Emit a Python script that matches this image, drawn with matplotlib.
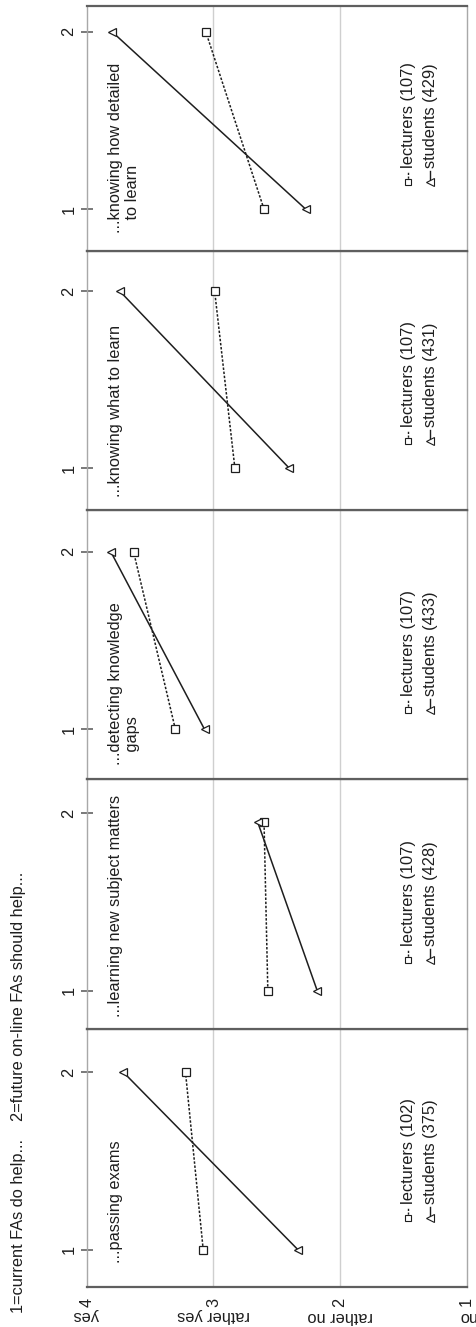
import matplotlib
matplotlib.use("Agg")
import matplotlib.pyplot as plt
import matplotlib.transforms as mtransforms
from matplotlib.lines import Line2D

plt.rcParams['font.family'] = ['Liberation Sans', 'DejaVu Sans']

# questionnaire items, listed from the bottom panel to the top panel
items = [
    "...passing exams",
    "...learning new subject matters",
    "...detecting knowledge\n   gaps",
    "...knowing what to learn",
    "...knowing how detailed\n   to learn",
]
n_lecturers = [102, 107, 107, 107, 107]
n_students = [375, 428, 433, 431, 429]

# mean agreement (4=yes ... 1=no)
lect_current = [3.08, 2.57, 3.30, 2.83, 2.60]
lect_future = [3.22, 2.60, 3.63, 2.99, 3.06]
stud_current = [2.33, 2.18, 3.07, 2.40, 2.27]
stud_future = [3.71, 2.65, 3.81, 3.74, 3.80]

# time point of each mean: 1=current FAs, 2=future on-line FAs
time_current = [1, 1, 1, 1, 1]
time_future = [2, 1.95, 2, 2, 2]

scale_values = [4, 3, 2, 1]
scale_words = ["yes", "rather yes", "rather no", "no"]
grid_values = [3, 2]
time_ticks = [1, 2]
title = "1=current FAs do help...    2=future on-line FAs should help..."

# ---- layout (pixels, origin at the top-left corner) ----
W, H = 476, 1327
FS = 11.8
INK = "#1e1e1e"
x_left, x_right = 86.7, 466.7
# (top, bottom, position of time 2, position of time 1) for each panel
rows = [
    (1029, 1287, 1072.3, 1250.0),
    (779, 1029, 813.3, 990.7),
    (510, 779, 551.7, 729.3),
    (251, 510, 291.0, 468.3),
    (6, 251, 31.7, 209.3),
]
item_offsets = [24, 12, 14, 13, 18]

fig = plt.figure(figsize=(W / 100, H / 100), dpi=100)
px = mtransforms.Affine2D().scale(1 / W, -1 / H).translate(0, 1) + fig.transFigure

axes = []
for i, (top, bot, t2, t1) in enumerate(rows):
    ax = fig.add_axes([x_left / W, 1 - bot / H, (x_right - x_left) / W, (bot - top) / H])
    axes.append(ax)
    unit = t1 - t2
    ax.set_ylim(1 - (bot - t1) / unit, 2 + (t2 - top) / unit)
    ax.set_xlim(4, 1)

    for g in grid_values:
        ax.axvline(g, color="#cfcfcf", lw=1.0, zorder=0)

    ax.plot([lect_current[i], lect_future[i]], [time_current[i], time_future[i]],
            ls=(0, (1.6, 1.1)), color=INK, lw=1.1, marker="s", ms=5.5,
            mfc="white", mec=INK, mew=0.9, zorder=3)
    ax.plot([stud_current[i], stud_future[i]], [time_current[i], time_future[i]],
            ls="-", color=INK, lw=1.1, marker="<", ms=6,
            mfc="white", mec=INK, mew=0.9, zorder=3)

    # spines: dark separators between panels, light outer edges
    for s in ("top", "bottom"):
        ax.spines[s].set_color("#5f5f5f")
        ax.spines[s].set_linewidth(1.6)
    for s in ("left", "right"):
        ax.spines[s].set_color("#a8a8a8")
        ax.spines[s].set_linewidth(1.0)

    ax.set_xticks([])
    ax.set_yticks(time_ticks)
    ax.set_yticklabels([str(t) for t in time_ticks], rotation=90, va="center")
    ax.tick_params(axis="y", direction="inout", length=9, width=1.1,
                   color="#555555", pad=3, labelsize=FS, labelcolor=INK)

    # item label
    ax.text(108, bot - item_offsets[i], items[i], transform=px, rotation=90,
            rotation_mode="anchor", ha="left", va="top", multialignment="left",
            fontsize=FS, color=INK)

    # legend
    y_m = bot - 69
    entries = [
        (408, f"lecturers ({n_lecturers[i]})", (0, (1.6, 1.1)), "s", 5),
        (430, f"students ({n_students[i]})", "-", "<", 5.5),
    ]
    for x_e, label, ls, mk, ms in entries:
        ax.add_line(Line2D([x_e, x_e], [y_m, y_m - 11], transform=px, ls=ls,
                           color=INK, lw=1.0, marker=mk, markevery=[0], ms=ms,
                           mfc="white", mec=INK, mew=0.8, clip_on=False))
        ax.text(x_e, y_m - 14, label, transform=px, rotation=90,
                rotation_mode="anchor", ha="left", va="center",
                fontsize=FS, color=INK)

# rating scale under the bottom panel
scale_tf = mtransforms.blended_transform_factory(axes[0].transData, px)
for v, w in zip(scale_values, scale_words):
    fig.text(v, 1302, str(v), transform=scale_tf, rotation=90,
             ha="center", va="center", fontsize=FS, color=INK)
    fig.text(v, 1316, w, transform=scale_tf, rotation=180,
             ha="center", va="center", fontsize=FS, color=INK)

fig.text(18, 1313, title, transform=px, rotation=90, rotation_mode="anchor",
         ha="left", va="center", fontsize=FS, color=INK)

fig.savefig("out.png", dpi=100)
